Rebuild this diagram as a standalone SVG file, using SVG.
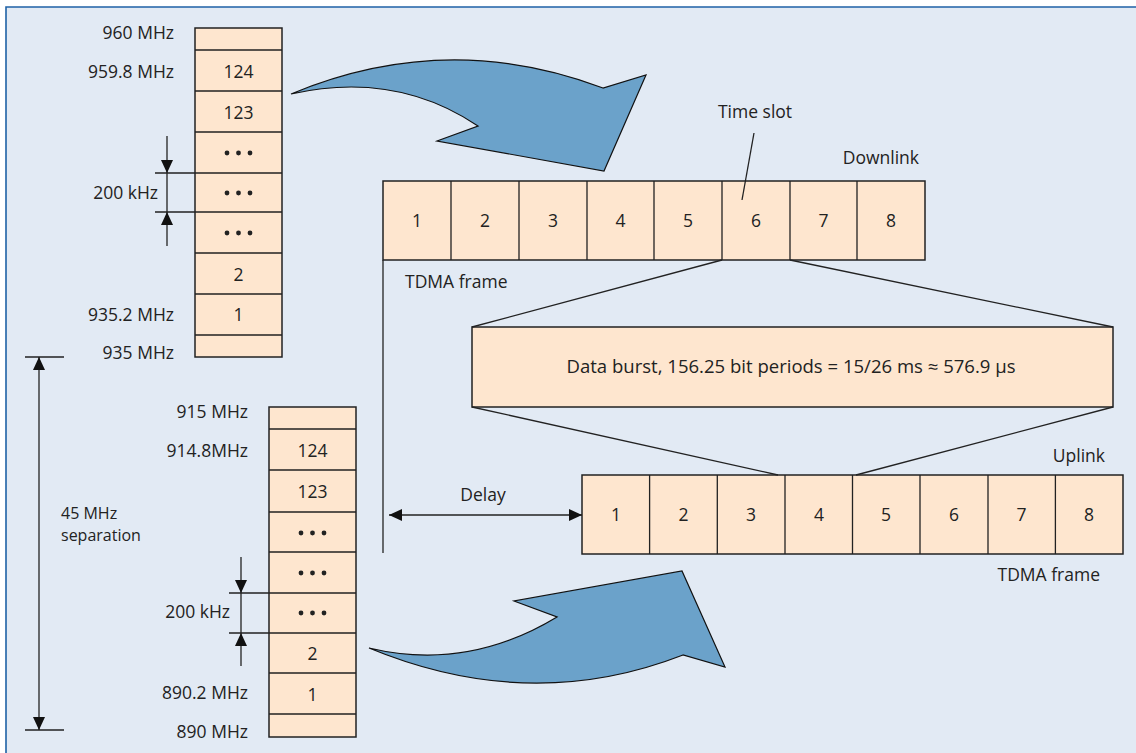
<svg xmlns="http://www.w3.org/2000/svg" width="1136" height="753" viewBox="0 0 1136 753">
<defs>
<style>
text{font-family:"Open Sans","Noto Sans","DejaVu Sans",sans-serif;font-size:17.5px;fill:#222}
.r{text-anchor:end}
.m{text-anchor:middle}
.sm{font-size:16px}
.cell{fill:#fee6cf;stroke:#222;stroke-width:1.5}
.ln{stroke:#222;stroke-width:1.3;fill:none}
.big{fill:#6ba2ca;stroke:#111;stroke-width:1.2}
.dot{fill:#222}
</style>
<marker id="ah" viewBox="0 0 13 12" refX="13" refY="6" markerWidth="13" markerHeight="12" markerUnits="userSpaceOnUse" orient="auto-start-reverse">
<path d="M0,0 L13,6 L0,12 z" fill="#111"/>
</marker>
<g id="dots3"><circle cx="-11.5" cy="0" r="2.4" class="dot"/><circle cx="0" cy="0" r="2.4" class="dot"/><circle cx="11.5" cy="0" r="2.4" class="dot"/></g>
</defs>
<rect x="0" y="0" width="1136" height="753" fill="#ffffff"/>
<rect x="6" y="7" width="1130" height="746" fill="#e2eaf4"/>
<path d="M6,753 V7 H1136" fill="none" stroke="#1f62a6" stroke-width="1.6"/>

<g id="downlink-channels">
<rect class="cell" x="195" y="28" width="87" height="329"/>
<path class="ln" d="M195,50H282M195,91H282M195,132H282M195,173H282M195,212H282M195,253H282M195,294H282M195,335H282"/>
<text class="m" x="238.5" y="78">124</text>
<text class="m" x="238.5" y="119">123</text>
<use href="#dots3" x="238.5" y="153"/>
<use href="#dots3" x="238.5" y="193"/>
<use href="#dots3" x="238.5" y="233"/>
<text class="m" x="238.5" y="281">2</text>
<text class="m" x="238.5" y="321">1</text>
<text class="r" x="174" y="39">960 MHz</text>
<text class="r" x="174" y="78">959.8 MHz</text>
<text class="r" x="174" y="321">935.2 MHz</text>
<text class="r" x="174" y="359">935 MHz</text>
<text class="r" x="158" y="199">200 kHz</text>
</g>

<g id="uplink-channels">
<rect class="cell" x="269" y="407" width="87" height="330"/>
<path class="ln" d="M269,429H356M269,470H356M269,512H356M269,552H356M269,593H356M269,633H356M269,673H356M269,714H356"/>
<text class="m" x="312.5" y="457">124</text>
<text class="m" x="312.5" y="498">123</text>
<use href="#dots3" x="312.5" y="533"/>
<use href="#dots3" x="312.5" y="573"/>
<use href="#dots3" x="312.5" y="613"/>
<text class="m" x="312.5" y="660">2</text>
<text class="m" x="312.5" y="701">1</text>
<text class="r" x="248" y="418">915 MHz</text>
<text class="r" x="248" y="457">914.8MHz</text>
<text class="r" x="248" y="699">890.2 MHz</text>
<text class="r" x="248" y="738">890 MHz</text>
<text class="r" x="230" y="618">200 kHz</text>
<text class="sm" x="61" y="519">45 MHz</text>
<text class="sm" x="61" y="541">separation</text>
</g>

<g id="downlink-frame">
<rect class="cell" x="383" y="181" width="542" height="79"/>
<path class="ln" d="M451,181V260M519,181V260M587,181V260M654,181V260M722,181V260M790,181V260M857,181V260"/>
<text class="m" x="417" y="227">1</text>
<text class="m" x="485" y="227">2</text>
<text class="m" x="553" y="227">3</text>
<text class="m" x="620.5" y="227">4</text>
<text class="m" x="688" y="227">5</text>
<text class="m" x="756" y="227">6</text>
<text class="m" x="823.5" y="227">7</text>
<text class="m" x="891" y="227">8</text>
<text class="r" x="919" y="164">Downlink</text>
<text x="405" y="288">TDMA frame</text>
<text class="m" x="755" y="118">Time slot</text>
</g>

<g id="data-burst">
<rect class="cell" x="472" y="327" width="641" height="80"/>
<text class="m" x="791" y="373" textLength="449" lengthAdjust="spacingAndGlyphs">Data burst, 156.25 bit periods = 15/26 ms ≈ 576.9 µs</text>
</g>

<g id="uplink-frame">
<rect class="cell" x="582" y="475" width="541" height="79"/>
<path class="ln" d="M649.6,475V554M717.3,475V554M785,475V554M852.5,475V554M920,475V554M988,475V554M1055.4,475V554"/>
<text class="m" x="616" y="521">1</text>
<text class="m" x="683.5" y="521">2</text>
<text class="m" x="751" y="521">3</text>
<text class="m" x="819" y="521">4</text>
<text class="m" x="886" y="521">5</text>
<text class="m" x="954" y="521">6</text>
<text class="m" x="1021.5" y="521">7</text>
<text class="m" x="1089" y="521">8</text>
<text class="r" x="1105" y="462">Uplink</text>
<text class="r" x="1100" y="581">TDMA frame</text>
</g>

<g id="delay">
<text class="m" x="483" y="501">Delay</text>
</g>

<g id="arrow-down">
<path class="big" d="M291,94 Q447,29 603,88 L646,75 L604,171 L437,141 L478,126 Q395.5,70.5 291,94 Z"/>
</g>
<g id="arrow-up">
<path class="big" d="M369,648 Q467,671.5 557,617 L514,601 L682,571 L725,667 L683,655 Q530,714.5 369,648 Z"/>
</g>

<g id="connectors">
<path class="ln" d="M754,133 L742,200"/>
<path class="ln" d="M722,260 L472,327 M790,260 L1113,327"/>
<path class="ln" d="M472,407 L778,475 M1113,407 L856,475"/>
<path class="ln" d="M383,260 V553"/>
<path class="ln" d="M389,515 H582" marker-start="url(#ah)" marker-end="url(#ah)"/>
<path class="ln" d="M25,357 H64 M25,730 H64"/>
<path class="ln" d="M39,357 V730" marker-start="url(#ah)" marker-end="url(#ah)"/>
<path class="ln" d="M155,173 H195 M155,212 H195 M167,173 V212"/>
<path class="ln" d="M167,136 V173" marker-end="url(#ah)"/>
<path class="ln" d="M167,246 V212" marker-end="url(#ah)"/>
<path class="ln" d="M229,593 H269 M229,633 H269 M241,593 V633"/>
<path class="ln" d="M241,557 V593" marker-end="url(#ah)"/>
<path class="ln" d="M241,666 V633" marker-end="url(#ah)"/>
</g>
</svg>
